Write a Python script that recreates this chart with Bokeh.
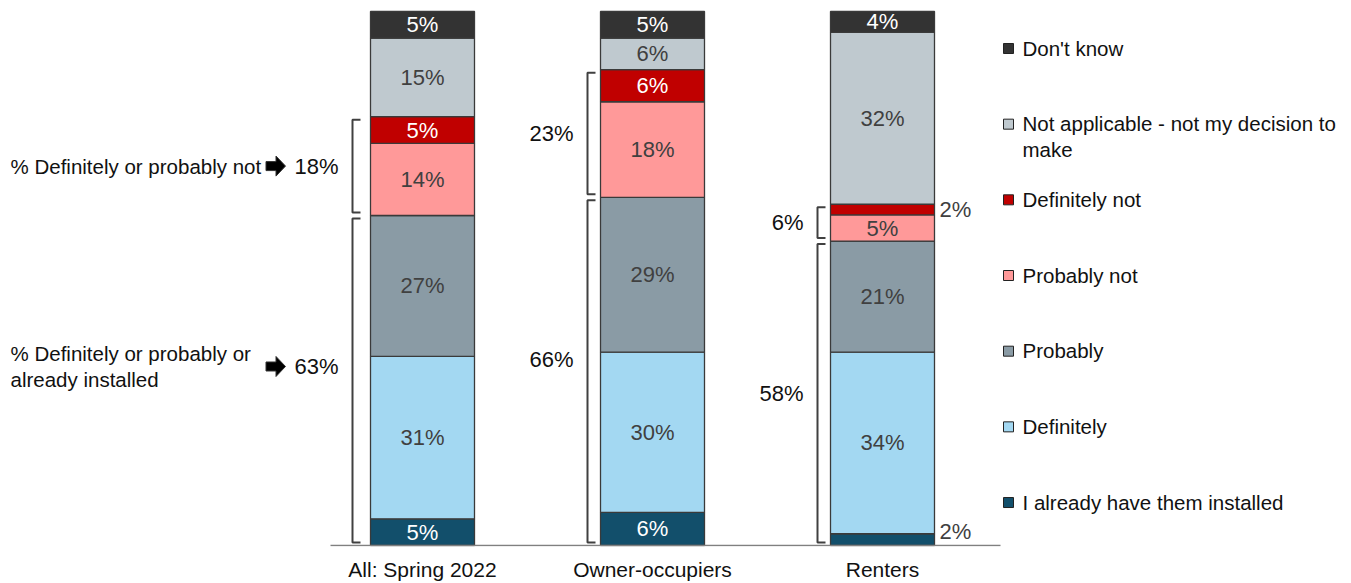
from bokeh.plotting import figure
from bokeh.models import FixedTicker, Range1d, ColumnDataSource
from bokeh.embed import file_html
from bokeh.resources import INLINE
from bokeh.core.properties import value

# ---------------- data ----------------
groups = ["All: Spring 2022", "Owner-occupiers", "Renters"]
series = ["I already have them installed", "Definitely", "Probably", "Probably not",
          "Definitely not", "Not applicable - not my decision to\nmake", "Don't know"]
colors = ["#124F6B", "#A3D8F2", "#8A9BA5", "#FF9999", "#C00000", "#BFC9CF", "#333333"]
label_colors = ["white", "#404040", "#404040", "#404040", "white", "#404040", "white"]

all_values = [5.0, 30.4, 26.4, 13.5, 5.0, 14.7, 5.0]
owner_values = [6.2, 30.0, 29.0, 17.9, 6.0, 5.9, 5.0]
renter_values = [2.2, 34.0, 20.8, 4.9, 2.0, 32.2, 3.9]
all_labels = [5, 31, 27, 14, 5, 15, 5]
owner_labels = [6, 30, 29, 18, 6, 6, 5]
renter_labels = [2, 34, 21, 5, 2, 32, 4]

bracket_not = ["18%", "23%", "6%"]
bracket_yes = ["63%", "66%", "58%"]
note_not = "% Definitely or probably not"
note_yes = "% Definitely or probably or\nalready installed"

# ---------------- layout ----------------
FONT = "Liberation Sans"
X0 = 422.0            # pixel position of first bar centre
PX_X = 230.0          # pixels per x unit
PX_Y = 5.34           # pixels per percent
FRAME_H = 546
W, H = 1350, 583
BAR_W = 104 / PX_X
bracket_gap = [18, 13, 13]
yes_label_lift = [14, 12, 0]   # px


def px(xpix):
    return (xpix - X0) / PX_X


p = figure(width=W, height=H, x_range=Range1d(px(0), px(W)),
           y_range=Range1d(-1 / PX_Y, (FRAME_H - 1) / PX_Y), output_backend="svg",
           toolbar_location=None, min_border_left=0, min_border_right=0, min_border_top=0,
           min_border_bottom=H - FRAME_H)
p.outline_line_color = None
p.grid.visible = False
p.yaxis.visible = False
p.xaxis.ticker = FixedTicker(ticks=[0, 1, 2])
p.xaxis.major_label_overrides = {i: g for i, g in enumerate(groups)}
p.xaxis.axis_line_color = None
p.xaxis.major_tick_line_color = None
p.xaxis.minor_tick_line_color = None
p.xaxis.major_tick_out = 0
p.xaxis.major_tick_in = 0
p.xaxis.major_label_text_font = FONT
p.xaxis.major_label_text_font_size = "21px"
p.xaxis.major_label_text_color = "#111111"
p.xaxis.major_label_standoff = 11

values = [all_values, owner_values, renter_values]
labels = [all_labels, owner_labels, renter_labels]

bx, bb, bt, bc = [], [], [], []
tin = dict(x=[], y=[], t=[], c=[])
tout = dict(x=[], y=[], t=[])
br_xs, br_ys = [], []
bl = dict(x=[], y=[], t=[])
for i, (vals, labs) in enumerate(zip(values, labels)):
    cum = 0.0
    cums = [0.0]
    for j, v in enumerate(vals):
        bx.append(i); bb.append(cum); bt.append(cum + v); bc.append(colors[j])
        mid = cum + v / 2
        if v < 3:
            tout["x"].append(i + BAR_W / 2 + 5 / PX_X)
            tout["y"].append(max(mid, 2.6))
            tout["t"].append(f"{labs[j]}%")
        else:
            tin["x"].append(i); tin["y"].append(mid)
            tin["t"].append(f"{labs[j]}%"); tin["c"].append(label_colors[j])
        cum += v
        cums.append(cum)
    xb = i - BAR_W / 2 - bracket_gap[i] / PX_X
    tick = 8 / PX_X
    inset = 3 / PX_Y
    spans = (((cums[3], cums[5]), bracket_not[i], 0),
             ((0.0, cums[3]), bracket_yes[i], yes_label_lift[i]))
    for (lo, hi), txt, lift in spans:
        y0, y1 = lo + inset, hi - inset
        br_xs.append([xb + tick, xb, xb, xb + tick])
        br_ys.append([y1, y1, y0, y0])
        bl["x"].append(xb - 14 / PX_X)
        bl["y"].append((y0 + y1) / 2 + lift / PX_Y)
        bl["t"].append(txt)
    if i == 0:
        note_y = [bl["y"][-2], bl["y"][-1]]
        note_lab_x = xb - 14 / PX_X

p.vbar(x=bx, bottom=bb, top=bt, width=BAR_W, fill_color=bc, line_color="#3a3a3a", line_width=1.3)

p.text(x="x", y="y", text="t", text_color="c", source=ColumnDataSource(tin),
       text_font=value(FONT), text_font_size="22px", text_align="center", text_baseline="middle")
p.text(x="x", y="y", text="t", source=ColumnDataSource(tout), text_color="#404040",
       text_font=value(FONT), text_font_size="22px", text_align="left", text_baseline="middle")

p.multi_line(xs=br_xs, ys=br_ys, line_color="#404040", line_width=2)
p.text(x="x", y="y", text="t", source=ColumnDataSource(bl), text_color="#111111",
       text_font=value(FONT), text_font_size="22px", text_align="right", text_baseline="middle")

# left notes with block arrows
p.text(x=[px(10)] * 2, y=note_y, text=[note_not, note_yes], text_color="#111111",
       text_font=value(FONT), text_font_size="20.5px", text_align="left", text_baseline="middle",
       text_line_height=1.12)
arrow_dx = [-9.5, 0.5, 0.5, 10, 0.5, 0.5, -9.5]
arrow_dy = [4.5, 4.5, 10, 0, -10, -4.5, -4.5]
acx = note_lab_x - 63 / PX_X
p.patches(xs=[[acx + d / PX_X for d in arrow_dx]] * 2,
          ys=[[yy + d / PX_Y for d in arrow_dy] for yy in note_y],
          fill_color="black", line_color="#333333", line_width=1)

# baseline
p.segment(x0=[px(330)], x1=[px(1000)], y0=[0], y1=[0], line_color="#808080", line_width=1.5)

# legend (manual)
leg_top = (FRAME_H - 1 - 48) / PX_Y
leg_step = 75.67 / PX_Y
order = list(range(len(series)))[::-1]
ly = [leg_top - k * leg_step for k in range(len(order))]
p.scatter(x=[px(1008)] * len(order), y=ly, marker="square", size=10,
          fill_color=[colors[j] for j in order], line_color="#222222", line_width=1)
p.text(x=[px(1022)] * len(order), y=ly, text=[series[j] for j in order],
       text_color="#111111", text_font=value(FONT), text_font_size="20.5px",
       text_align="left", text_baseline="top", y_offset=-12, text_line_height=1.12)

open("out.html", "w").write(file_html(p, INLINE))
